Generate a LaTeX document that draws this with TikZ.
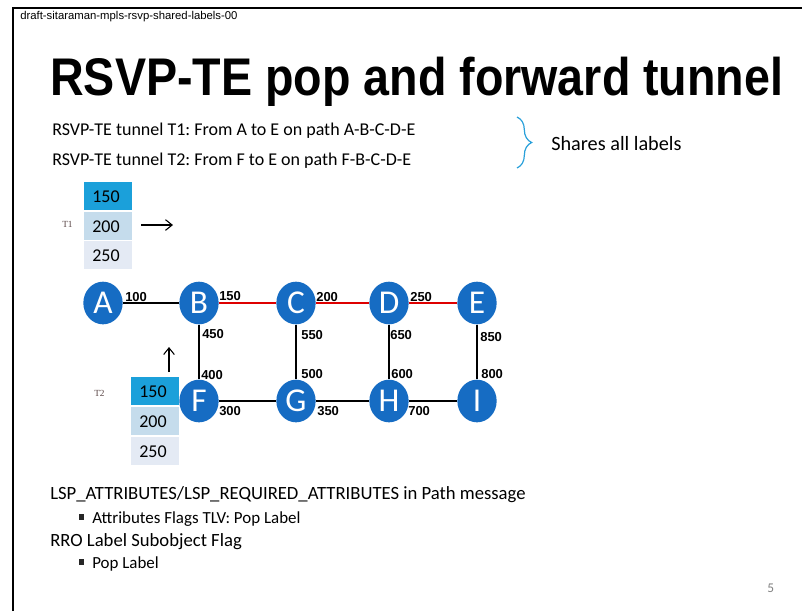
\documentclass[tikz,border=0pt]{standalone}
\usepackage{fontspec}
\setmainfont{Carlito}
\newfontfamily\hfont{Liberation Sans}
\newfontfamily\tfont{Liberation Serif}
\usetikzlibrary{decorations.pathreplacing,shapes.geometric,arrows.meta}
\definecolor{nodeblue}{RGB}{22,108,195}
\definecolor{boxdark}{RGB}{27,160,218}
\definecolor{boxmid}{RGB}{197,220,236}
\definecolor{boxlight}{RGB}{228,234,244}
\definecolor{bracecol}{RGB}{41,160,218}
\definecolor{pathred}{RGB}{222,0,0}
\definecolor{tcol}{RGB}{90,70,70}
\frenchspacing
\begin{document}
\begin{tikzpicture}[x=0.75pt,y=-0.75pt,
  router/.style={ellipse,fill=nodeblue,minimum width=29.5pt,minimum height=32pt,inner sep=0pt,
     text=white,font=\fontsize{25}{25}\selectfont},
  link/.style={line width=1.5pt,black},
  tlink/.style={line width=1.5pt,pathred},
  elabel/.style={anchor=west,inner sep=0pt,font=\hfont\bfseries\fontsize{9.75}{9.75}\selectfont},
  lblbox/.style={minimum width=36pt,minimum height=21pt,inner sep=0pt,anchor=north west,
     text width=24pt,align=left,font=\fontsize{13.5}{13.5}\selectfont},
  txt/.style={anchor=west,inner sep=0pt},
  bul/.style={fill=black!85,minimum width=3.8pt,minimum height=3.8pt,inner sep=0pt},
]
\useasboundingbox (0,0) rectangle (802,611);
% frame
\draw[line width=1.5pt] (13,611) -- (13,8) -- (802,8);
% header and title
\node[txt,font=\hfont\fontsize{8.5}{8.5}\selectfont] (hdr) at (20,17) {draft-sitaraman-mpls-rsvp-shared-labels-00};
\node[txt,font=\hfont\bfseries\fontsize{39.75}{39.75}\selectfont] (title) at (50,82) {\resizebox{549.75pt}{\height}{RSVP-TE pop and forward tunnel}};
% tunnel descriptions
\node[txt,font=\fontsize{13.5}{13.5}\selectfont] (l1) at (52,131) {RSVP-TE tunnel T1: From A to E on path A-B-C-D-E};
\node[txt,font=\fontsize{13.5}{13.5}\selectfont] (l2) at (52,161) {RSVP-TE tunnel T2: From F to E on path F-B-C-D-E};
\coordinate (brtop) at (517,117);
\coordinate (brbot) at (517,168);
\draw[bracecol,line width=0.9pt,decorate,decoration={brace,amplitude=11pt}] (brtop) -- (brbot);
\node[txt,font=\fontsize{15.2}{15.2}\selectfont] (shares) at (551,144) {Shares all labels};
% T1 label stack
\node[lblbox,fill=boxdark] (t1a) at (84,182) {150};
\node[lblbox,fill=boxmid] (t1b) at (84,212) {200};
\node[lblbox,fill=boxlight] (t1c) at (84,241) {250};
\node[txt,text=tcol,font=\tfont\fontsize{7}{7}\selectfont] (t1) at (62,224) {T1};
\coordinate (ar1s) at (141,225);
\coordinate (ar1e) at (173,225);
\draw[line width=0.8pt,-{Straight Barb[length=5pt,width=8pt]}] (ar1s) -- (ar1e);
% T2 label stack
\node[lblbox,fill=boxdark] (t2a) at (131,377) {150};
\node[lblbox,fill=boxmid] (t2b) at (131,407) {200};
\node[lblbox,fill=boxlight] (t2c) at (131,437) {250};
\node[txt,text=tcol,font=\tfont\fontsize{7}{7}\selectfont] (t2) at (94,393) {T2};
\coordinate (ar2s) at (169,372);
\coordinate (ar2e) at (169,347);
\draw[line width=0.8pt,-{Straight Barb[length=5pt,width=8pt]}] (ar2s) -- (ar2e);
% routers
\node[router] (A) at (103,303) {A};
\node[router] (B) at (199,303) {B};
\node[router] (C) at (296,303) {C};
\node[router] (D) at (389,303) {D};
\node[router] (E) at (477,303) {E};
\node[router] (F) at (199,401) {F};
\node[router] (G) at (296,401) {G};
\node[router] (H) at (389,401) {H};
\node[router] (I) at (477,401) {I};
% links
\draw[link] (A) -- (B);
\draw[tlink] (B) -- (C);
\draw[tlink] (C) -- (D);
\draw[tlink] (D) -- (E);
\draw[link] (B) -- (F);
\draw[link] (C) -- (G);
\draw[link] (D) -- (H);
\draw[link] (E) -- (I);
\draw[link] (F) -- (G);
\draw[link] (G) -- (H);
\draw[link] (H) -- (I);
% edge labels
\node[elabel] (n100) at (125,297) {100};
\node[elabel] (n150) at (219,296) {150};
\node[elabel] (n200) at (316,297) {200};
\node[elabel] (n250) at (410,297) {250};
\node[elabel] (n450) at (202,334) {450};
\node[elabel] (n550) at (301,335) {550};
\node[elabel] (n650) at (390,335) {650};
\node[elabel] (n850) at (480,337) {850};
\node[elabel] (n400) at (201,375) {400};
\node[elabel] (n500) at (301,374) {500};
\node[elabel] (n600) at (391,374) {600};
\node[elabel] (n800) at (481,374) {800};
\node[elabel] (n300) at (219,411) {300};
\node[elabel] (n350) at (317,411) {350};
\node[elabel] (n700) at (408,411) {700};
% bottom text
\node[txt,font=\fontsize{14}{14}\selectfont] (b1) at (50,495) {LSP\_ATTRIBUTES/LSP\_REQUIRED\_ATTRIBUTES in Path message};
\node[bul] (bu1) at (81.5,517) {};
\node[txt,font=\fontsize{12.7}{12.7}\selectfont] (b2) at (92,519) {Attributes Flags TLV: Pop Label};
\node[txt,font=\fontsize{14}{14}\selectfont] (b3) at (50,542) {RRO Label Subobject Flag};
\node[bul] (bu2) at (81.5,562) {};
\node[txt,font=\fontsize{12.7}{12.7}\selectfont] (b4) at (92,564) {Pop Label};
\node[txt,text=black!50,font=\fontsize{10}{10}\selectfont] (pg) at (767,588) {5};
\end{tikzpicture}
\end{document}
